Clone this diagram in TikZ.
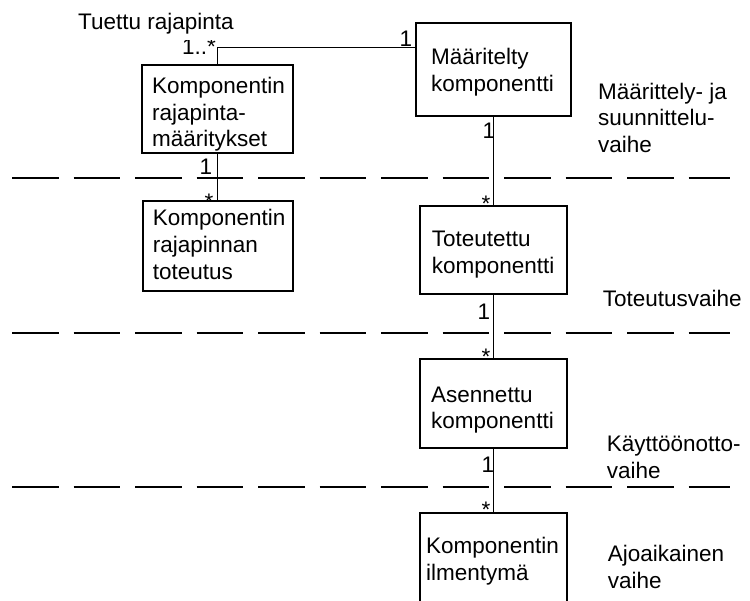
\documentclass[tikz,border=0pt]{standalone}
\usepackage{fontspec}
\setmainfont{Liberation Sans}
\begin{document}
\begin{tikzpicture}[x=1pt,y=-1pt,
  txtfont/.style={font=\fontsize{22.5}{26.8}\selectfont},
  comp/.style={draw, line width=1.6pt, rectangle, inner sep=0pt},
  lbl/.style={txtfont, inner sep=0pt, align=left, anchor=base west},
  mult/.style={txtfont, inner sep=0pt, anchor=base},
  link/.style={line width=1.6pt},
  phase/.style={line width=1.4pt, dash pattern=on 46.5pt off 15pt}]
\clip (0,0) rectangle (750,601);

% phase separators
\draw[phase] (12,178) -- (730,178);
\draw[phase] (12,333) -- (730,333);
\draw[phase] (12,487) -- (730,487);

% component boxes
\node[comp, minimum width=151pt, minimum height=88pt] (ifdef)  at (217.5,109)   {};
\node[comp, minimum width=155pt, minimum height=93pt] (defc)   at (493.5,69.5)  {};
\node[comp, minimum width=150pt, minimum height=90pt] (ifimpl) at (218,246)     {};
\node[comp, minimum width=147pt, minimum height=88pt] (impc)   at (493.5,250)   {};
\node[comp, minimum width=147pt, minimum height=89pt] (instc)  at (493.5,403.5) {};
\node[comp, minimum width=147pt, minimum height=107pt] (runc)  at (493.5,566.5) {};

% box texts (anchored on the baseline of the last line)
\node[lbl] (tifdef)  at (152,147)     {Komponentin\\rajapinta-\\määritykset};
\node[lbl] (tdefc)   at (431,91.7)    {Määritelty\\komponentti};
\node[lbl] (tifimpl) at (152.7,279.3) {Komponentin\\rajapinnan\\toteutus};
\node[lbl] (timpc)   at (431.7,273.3) {Toteutettu\\komponentti};
\node[lbl] (tinstc)  at (431,429)     {Asennettu\\komponentti};
\node[lbl] (truns)   at (426,580.7)   {Komponentin\\ilmentymä};

% phase names
\node[lbl] (ph1) at (598,152.7)   {Määrittely- ja\\suunnittelu-\\vaihe};
\node[lbl] (ph2) at (602.7,306.7) {Toteutusvaihe};
\node[lbl] (ph3) at (606.7,478.3) {Käyttöönotto-\\vaihe};
\node[lbl] (ph4) at (607.7,588.3) {Ajoaikainen\\vaihe};

% associations
\coordinate (bend) at (ifdef.north |- 0,47.5);
\draw[link] (ifdef.north) -- (bend) -- (bend -| defc.west);
\draw[link] (ifdef.south) -- (ifimpl.north -| ifdef.south);
\draw[link] (defc.south) -- (impc.north);
\draw[link] (impc.south) -- (instc.north);
\draw[link] (instc.south) -- (runc.north);

% multiplicities
\node[mult, anchor=base east] (m1) at (216,54.5) {1..*};
\node[mult] (m2)  at (406,46.5) {1};
\node[mult] (m3)  at (489,139)  {1};
\node[mult] (m4)  at (206,175)  {1};
\node[mult] (m5)  at (209,210)  {*};
\node[mult] (m6)  at (486,212)  {*};
\node[mult] (m7)  at (484,320)  {1};
\node[mult] (m8)  at (486,365)  {*};
\node[mult] (m9)  at (488,473)  {1};
\node[mult] (m10) at (486,517)  {*};

% role name, its white block overlaps the top of the multiplicity below
\node[txtfont, fill=white, inner xsep=0pt, inner ysep=0pt, text depth=10.5pt,
  anchor=base west] (role) at (78,30) {Tuettu rajapinta};
\end{tikzpicture}
\end{document}
